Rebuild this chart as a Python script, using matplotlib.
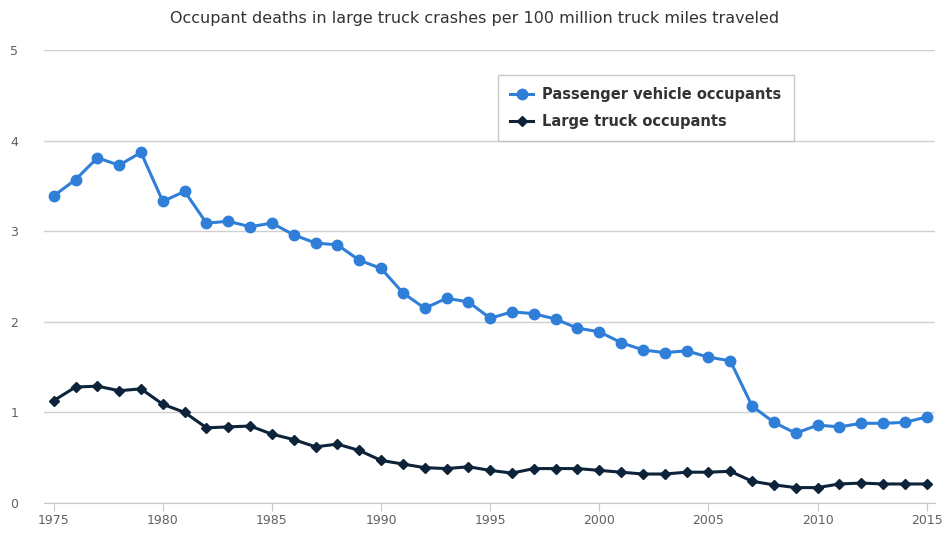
import matplotlib
matplotlib.use("Agg")
import matplotlib.pyplot as plt

years = list(range(1975, 2016))
passenger = [3.39, 3.57, 3.81, 3.73, 3.87, 3.33, 3.44, 3.09, 3.11, 3.05,
             3.09, 2.96, 2.87, 2.85, 2.68, 2.59, 2.32, 2.15, 2.26, 2.22,
             2.04, 2.11, 2.09, 2.03, 1.93, 1.89, 1.77, 1.69, 1.66, 1.68,
             1.61, 1.57, 1.07, 0.89, 0.77, 0.86, 0.84, 0.88, 0.88, 0.89,
             0.95]
truck = [1.13, 1.28, 1.29, 1.24, 1.26, 1.09, 1.00, 0.83, 0.84, 0.85,
         0.76, 0.70, 0.62, 0.65, 0.58, 0.47, 0.43, 0.39, 0.38, 0.40,
         0.36, 0.33, 0.38, 0.38, 0.38, 0.36, 0.34, 0.32, 0.32, 0.34,
         0.34, 0.35, 0.24, 0.20, 0.17, 0.17, 0.21, 0.22, 0.21, 0.21,
         0.21]
xticks = [1975, 1980, 1985, 1990, 1995, 2000, 2005, 2010, 2015]
yticks = [0, 1, 2, 3, 4, 5]
title = "Occupant deaths in large truck crashes per 100 million truck miles traveled"

plt.rcParams['font.family'] = ['DejaVu Sans']
fig = plt.figure(figsize=(9.49, 5.33), dpi=100)
ax = fig.add_axes([0.046, 0.0563, 0.939, 0.8497])

ax.plot(years, passenger, color='#2f7ed8', lw=2.2, marker='o', ms=7.5,
        label='Passenger vehicle occupants', zorder=3)
ax.plot(years, truck, color='#0d233a', lw=2.2, marker='D', ms=5,
        label='Large truck occupants', zorder=3)

ax.set_xlim(1974.54, 2015.37)
ax.set_ylim(0, 5)
ax.set_yticks(yticks)
ax.set_xticks(xticks)
ax.grid(axis='y', color='#d0d0d0', lw=1)
ax.set_axisbelow(True)
for s in ['top', 'right', 'left']:
    ax.spines[s].set_visible(False)
ax.spines['bottom'].set_color('#c8c8c8')
ax.tick_params(axis='y', length=0, labelsize=9, labelcolor='#606060', pad=24)
for lab in ax.get_yticklabels():
    lab.set_horizontalalignment('left')
ax.tick_params(axis='x', length=6, color='#c8c8c8', labelsize=9,
               labelcolor='#606060', pad=2)

fig.text(0.5, 0.966, title, ha='center', va='center', fontsize=11.5, color='#333333')

leg = ax.legend(loc='upper left', bbox_to_anchor=(0.5095, 0.945), frameon=True,
                fancybox=False, prop={'weight': 'bold', 'size': 10.5},
                handlelength=1.6, handletextpad=0.6, borderpad=0.85,
                labelspacing=0.8, borderaxespad=0)
leg.get_frame().set_edgecolor('#bbbbbb')
leg.get_frame().set_linewidth(1)
for t in leg.get_texts():
    t.set_color('#333333')

fig.savefig('out.png', dpi=100)
